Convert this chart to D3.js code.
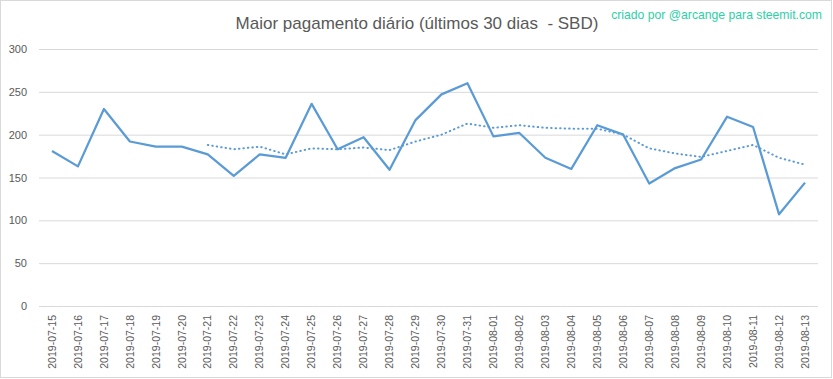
<!DOCTYPE html>
<html>
<head>
<meta charset="utf-8">
<script src="https://cdn.jsdelivr.net/npm/d3@7"></script>
<style>
  body { margin: 0; background: #fff; }
  svg { display: block; font-family: "Liberation Sans", Arial, sans-serif; }
</style>
</head>
<body>
<div id="chart"></div>
<script>
const dates = [
  '2019-07-15', '2019-07-16', '2019-07-17', '2019-07-18', '2019-07-19', '2019-07-20',
  '2019-07-21', '2019-07-22', '2019-07-23', '2019-07-24', '2019-07-25', '2019-07-26',
  '2019-07-27', '2019-07-28', '2019-07-29', '2019-07-30', '2019-07-31', '2019-08-01',
  '2019-08-02', '2019-08-03', '2019-08-04', '2019-08-05', '2019-08-06', '2019-08-07',
  '2019-08-08', '2019-08-09', '2019-08-10', '2019-08-11', '2019-08-12', '2019-08-13'
];
// maior pagamento do dia (SBD)
const payouts = [
  181, 163, 230, 192, 186, 186, 177, 152, 177, 173, 236, 183,
  197, 159, 217, 247, 260, 198, 202, 173, 160, 211, 200, 143,
  161, 171, 221, 209, 107, 144
];
// media movel (linha pontilhada), começa em 07-21
const trend = [
  null, null, null, null, null, null, 188, 183, 186, 177, 184, 183,
  185, 182, 192, 200, 213, 208, 211, 208, 207, 207, 200, 184,
  178, 174, 181, 188, 173, 165
];
const yTicks = [0, 50, 100, 150, 200, 250, 300];

const W = 833, H = 379;
const plotLeft = 39, plotRight = 818, plotTop = 49, plotBottom = 306;

const svg = d3.select('#chart').append('svg')
  .attr('width', W)
  .attr('height', H);

svg.append('rect')
  .attr('x', 0.5).attr('y', 0.5)
  .attr('width', W - 2).attr('height', H - 2)
  .attr('fill', '#fff')
  .attr('stroke', '#d9d9d9');

const x = d3.scaleBand().domain(dates).range([plotLeft, plotRight]);
const y = d3.scaleLinear().domain([0, 300]).range([plotBottom, plotTop]);
const cx = d => x(d) + x.bandwidth() / 2;

// gridlines + y labels
const yAxis = svg.append('g')
  .attr('transform', `translate(${plotLeft},0)`)
  .call(d3.axisLeft(y).tickValues(yTicks).tickSize(-(plotRight - plotLeft)).tickPadding(12));
yAxis.select('.domain').remove();
yAxis.selectAll('line').attr('stroke', '#d9d9d9');
yAxis.selectAll('text')
  .attr('fill', '#595959')
  .style('font-size', '11px');

// x labels
const xAxis = svg.append('g')
  .attr('transform', `translate(0,${plotBottom})`)
  .call(d3.axisBottom(x).tickSize(0));
xAxis.select('.domain').remove();
xAxis.selectAll('text')
  .attr('fill', '#595959')
  .style('font-size', '10.5px')
  .attr('text-anchor', 'end')
  .attr('transform', 'rotate(-90)')
  .attr('x', -9)
  .attr('y', 0)
  .attr('dy', '0.35em');

const line = d3.line()
  .defined(d => d != null)
  .x((d, i) => cx(dates[i]))
  .y(d => y(d));

svg.append('path')
  .datum(trend)
  .attr('d', line)
  .attr('fill', 'none')
  .attr('stroke', '#5b9bd5')
  .attr('stroke-width', 2)
  .attr('stroke-linecap', 'round')
  .attr('stroke-dasharray', '0.5,4');

svg.append('path')
  .datum(payouts)
  .attr('d', line)
  .attr('fill', 'none')
  .attr('stroke', '#5b9bd5')
  .attr('stroke-width', 2.25)
  .attr('stroke-linejoin', 'round');

svg.append('text')
  .attr('x', 417)
  .attr('y', 29)
  .attr('text-anchor', 'middle')
  .attr('fill', '#595959')
  .style('font-size', '17px')
  .style('white-space', 'pre')
  .text('Maior pagamento diário (últimos 30 dias  - SBD)');

svg.append('text')
  .attr('x', 822)
  .attr('y', 19)
  .attr('text-anchor', 'end')
  .attr('fill', '#2fcfa6')
  .style('font-size', '12.2px')
  .text('criado por @arcange para steemit.com');
</script>
</body>
</html>
